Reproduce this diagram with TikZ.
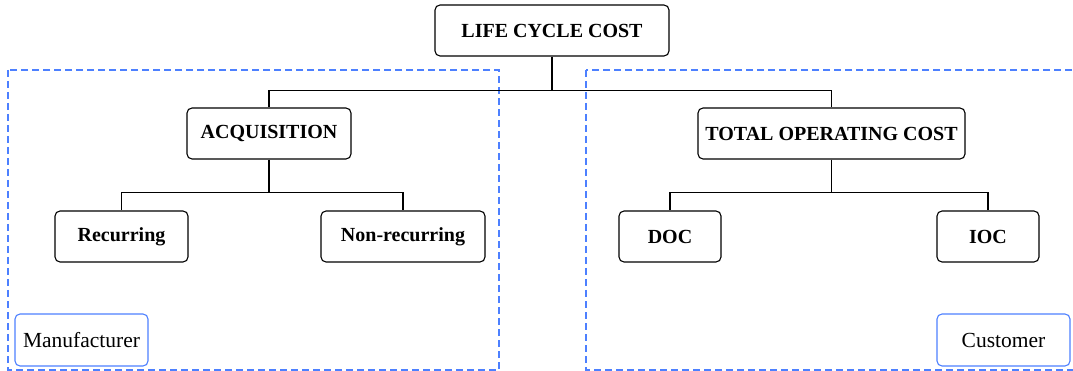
\documentclass[tikz,border=0pt]{standalone}
\usepackage{fontspec}
\setmainfont{Liberation Serif}
\begin{document}
\definecolor{grpblue}{RGB}{77,128,255}
\begin{tikzpicture}[x=1pt,y=-1pt,
  box/.style={draw=black,line width=1.1pt,rounded corners=5pt,fill=white,
    inner sep=0pt,minimum height=51pt,font=\bfseries\fontsize{20}{24}\selectfont},
  tag/.style={draw=grpblue,line width=1.1pt,rounded corners=5pt,fill=white,
    inner sep=0pt,minimum height=52pt,font=\fontsize{21.5}{25}\selectfont},
  group/.style={draw=grpblue,line width=1.2pt,dash pattern=on 7pt off 4pt},
  link/.style={draw=black,line width=1.1pt}]
\useasboundingbox (0,0) rectangle (1073,371);
\clip (0,0) rectangle (1073,371);
% manufacturer and customer areas
\draw[group] (8,70) rectangle (499,370);
\draw[group] (586,70) rectangle (1090,370);
% cost breakdown
\node[box,minimum width=234pt] (lcc) at (552,30.5) {LIFE CYCLE COST};
\node[box,minimum width=164pt] (acq) at (269,133.5) {ACQUISITION};
\node[box,minimum width=267pt] (toc) at (831.5,133.5) {TOTAL OPERATING COST};
\node[box,minimum width=133pt] (rec) at (121.5,236.5) {Recurring};
\node[box,minimum width=164pt] (nrec) at (403,236.5) {Non-recurring};
\node[box,minimum width=102pt] (doc) at (670,236.5) {DOC};
\node[box,minimum width=102pt] (ioc) at (988,236.5) {IOC};
\node[tag,minimum width=133pt] (man) at (81.5,340) {Manufacturer};
\node[tag,minimum width=133pt] (cus) at (1003.5,340) {Customer};
% junction points of the tree
\coordinate (bus0) at (552,90.5);
\coordinate (busa) at (269,192.5);
\coordinate (bust) at (831.5,192.5);
% tree connectors
\draw[link] (lcc.south) -- (bus0) -| (acq.north);
\draw[link] (bus0) -| (toc.north);
\draw[link] (acq.south) -- (busa) -| (rec.north);
\draw[link] (busa) -| (nrec.north);
\draw[link] (toc.south) -- (bust) -| (doc.north);
\draw[link] (bust) -| (ioc.north);
\end{tikzpicture}
\end{document}
